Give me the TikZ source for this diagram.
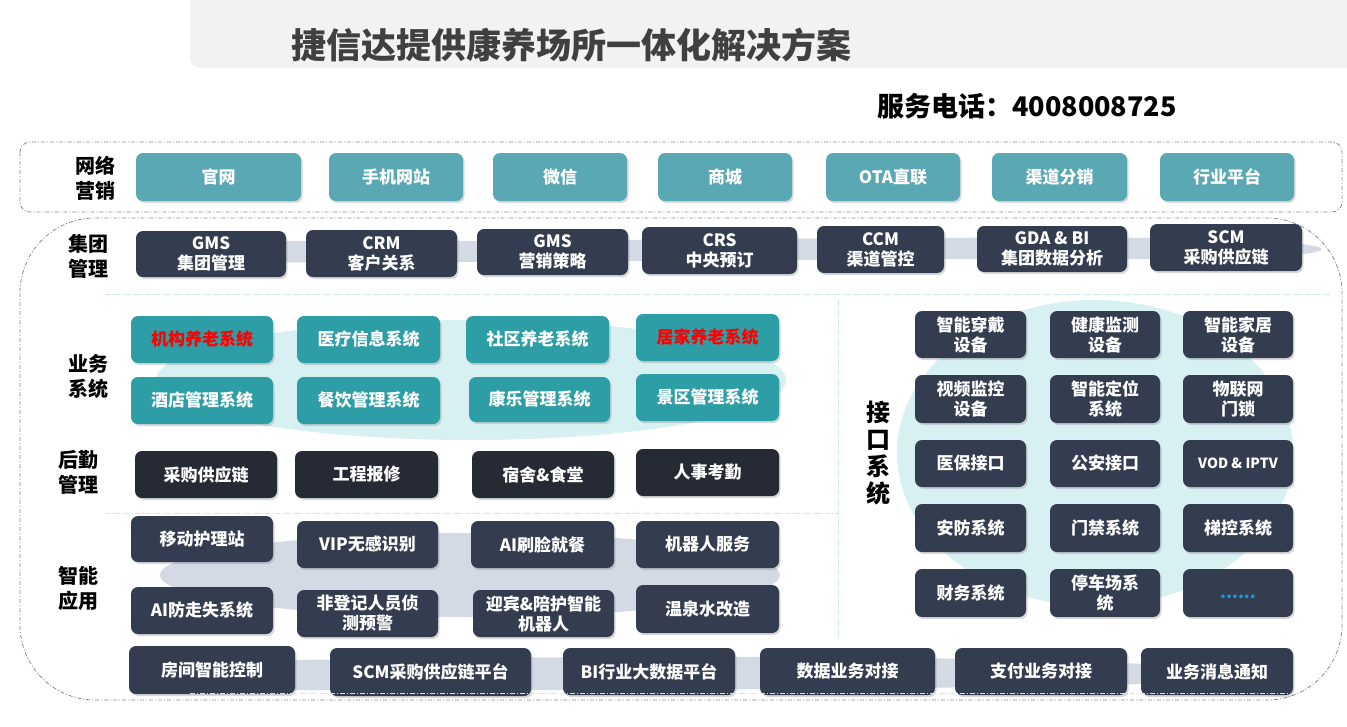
\documentclass[tikz,border=0pt]{standalone}
\usepackage{fontspec}
\newfontfamily\cjk{Noto Sans CJK SC}
\usetikzlibrary{shadows}
\definecolor{tealA}{HTML}{5BA8B5}
\definecolor{tealB}{HTML}{2D9EA6}
\definecolor{darkA}{HTML}{333D4F}
\definecolor{darkB}{HTML}{252A35}
\definecolor{bandc}{HTML}{D3DAE3}
\definecolor{lteal}{HTML}{D7F1F3}
\definecolor{sepc}{HTML}{C4E9EC}
\definecolor{titlebg}{HTML}{F2F2F2}
\definecolor{titlec}{HTML}{404040}
\definecolor{dotc}{HTML}{1E96D6}
\definecolor{borderc}{HTML}{8A8A8A}
\newcommand\boxfont{\cjk\bfseries\fontsize{17}{20}\selectfont}
\newcommand\bx[7]{\node[#6, minimum width={(#4-#2)*1pt}, minimum height={(#5-#3)*1pt}] (#1) at ({(#2+#4)/2},{(#3+#5)/2}) {#7};}
\begin{document}
\begin{tikzpicture}[x=1pt,y=-1pt,
  box/.style={rounded corners=7pt, inner sep=0pt, align=center, text=white, font=\boxfont,
    drop shadow={shadow xshift=1.5pt, shadow yshift=-2pt, opacity=0.3}},
  web/.style={box, fill=tealA},
  biz/.style={box, fill=tealB},
  dk/.style={box, fill=darkA},
  lg/.style={box, fill=darkB},
  lbl/.style={align=center, inner sep=0pt, text=black, font=\cjk\bfseries\fontsize{20}{25}\selectfont},
  dd/.style={draw=borderc, line width=0.8pt, dash pattern=on 4pt off 2pt on 1pt off 2pt},
  sep/.style={draw=sepc, line width=0.9pt, dash pattern=on 5pt off 2pt on 1pt off 2pt}]
\useasboundingbox (0,0) rectangle (1347,726);
% title banner
\fill[titlebg, rounded corners=10pt] (190,-20) rectangle (1380,68);
\node[font=\cjk\bfseries\fontsize{35}{40}\selectfont, text=titlec, inner sep=0pt] (title) at (571,45) {捷信达提供康养场所一体化解决方案};
\node[font=\cjk\bfseries\fontsize{27}{30}\selectfont, text=black, inner sep=0pt] (phone) at (1027,106) {服务电话：4008008725};
% outlines
\draw[dd, rounded corners=10pt] (20,142) rectangle (1342,212);
\draw[dd, rounded corners=75pt] (20,218) rectangle (1342,700);
% separators
\draw[sep] (105,294) -- (1330,294);
\draw[sep] (838,300) -- (838,640);
\draw[sep] (105,513) -- (838,513);
% backgrounds
\fill[lteal] (471,380) ellipse [x radius=315, y radius=60];
\fill[bandc] (470,575) ellipse [x radius=310, y radius=42];
\fill[lteal] (1095,453) ellipse [x radius=198, y radius=153];
\fill[bandc] (136,240) .. controls (500,244) and (800,236) .. (1150,238)
  .. controls (1260,238) and (1320,244) .. (1322,249)
  .. controls (1320,255) and (1260,259) .. (1150,259)
  .. controls (800,258) and (500,264) .. (136,262) -- cycle;
\fill[bandc] (290,660) .. controls (600,656) and (900,654) .. (1145,664)
  -- (1145,684) .. controls (900,690) and (600,690) .. (290,690) -- cycle;
% labels
\node[lbl] (l1) at (95,178) {网络\\营销};
\node[lbl] (l2) at (88,256) {集团\\管理};
\node[lbl] (l3) at (88,376) {业务\\系统};
\node[lbl] (l4) at (78,472) {后勤\\管理};
\node[lbl] (l5) at (78,588) {智能\\应用};
\node[lbl, font=\cjk\bfseries\fontsize{24}{27}\selectfont] (l6) at (878,453) {接\\口\\系\\统};
% row 1
\bx{w1}{136}{153}{301}{201}{web}{官网}
\bx{w2}{329}{153}{463}{201}{web}{手机网站}
\bx{w3}{493}{153}{627}{201}{web}{微信}
\bx{w4}{658}{153}{792}{201}{web}{商城}
\bx{w5}{826}{153}{960}{201}{web}{OTA直联}
\bx{w6}{992}{153}{1127}{201}{web}{渠道分销}
\bx{w7}{1160}{153}{1294}{201}{web}{行业平台}
% row 2
\bx{g1}{136}{231}{286}{277}{dk}{GMS\\集团管理}
\bx{g2}{306}{230}{457}{277}{dk}{CRM\\客户关系}
\bx{g3}{477}{229}{628}{275}{dk}{GMS\\营销策略}
\bx{g4}{642}{227}{797}{274}{dk}{CRS\\中央预订}
\bx{g5}{817}{226}{944}{273}{dk}{CCM\\渠道管控}
\bx{g6}{977}{226}{1127}{272}{dk}{GDA \& BI\\集团数据分析}
\bx{g7}{1150}{224}{1302}{271}{dk}{SCM\\采购供应链}
% business
\bx{b1}{131}{316}{273}{363}{biz,text=red}{机构养老系统}
\bx{b2}{297}{316}{440}{363}{biz}{医疗信息系统}
\bx{b3}{466}{316}{609}{363}{biz}{社区养老系统}
\bx{b4}{636}{314}{779}{361}{biz,text=red}{居家养老系统}
\bx{b5}{131}{377}{273}{424}{biz}{酒店管理系统}
\bx{b6}{297}{377}{440}{424}{biz}{餐饮管理系统}
\bx{b7}{469}{377}{610}{422}{biz}{康乐管理系统}
\bx{b8}{636}{374}{779}{421}{biz}{景区管理系统}
% logistics
\bx{h1}{135}{451}{277}{498}{lg}{采购供应链}
\bx{h2}{295}{451}{438}{498}{lg}{工程报修}
\bx{h3}{472}{451}{614}{498}{lg}{宿舍\&食堂}
\bx{h4}{636}{449}{779}{496}{lg}{人事考勤}
% smart apps
\bx{s1}{131}{516}{273}{562}{dk}{移动护理站}
\bx{s2}{297}{521}{438}{568}{dk}{VIP无感识别}
\bx{s3}{471}{521}{614}{568}{dk}{AI刷脸就餐}
\bx{s4}{636}{521}{779}{568}{dk}{机器人服务}
\bx{s5}{131}{587}{273}{634}{dk}{AI防走失系统}
\bx{s6}{297}{590}{438}{637}{dk}{非登记人员侦\\测预警}
\bx{s7}{473}{590}{614}{637}{dk}{迎宾\&陪护智能\\机器人}
\bx{s8}{636}{585}{779}{633}{dk}{温泉水改造}
% interfaces
\bx{i1}{915}{311}{1026}{358}{dk}{智能穿戴\\设备}
\bx{i2}{1050}{311}{1160}{358}{dk}{健康监测\\设备}
\bx{i3}{1183}{311}{1293}{358}{dk}{智能家居\\设备}
\bx{i4}{915}{375}{1026}{423}{dk}{视频监控\\设备}
\bx{i5}{1050}{375}{1160}{423}{dk}{智能定位\\系统}
\bx{i6}{1183}{375}{1293}{423}{dk}{物联网\\门锁}
\bx{i7}{915}{440}{1026}{487}{dk}{医保接口}
\bx{i8}{1050}{440}{1160}{487}{dk}{公安接口}
\bx{i9}{1183}{440}{1293}{487}{dk,font=\cjk\bfseries\fontsize{14}{16}\selectfont}{VOD \& IPTV}
\bx{i10}{915}{504}{1026}{552}{dk}{安防系统}
\bx{i11}{1050}{504}{1160}{552}{dk}{门禁系统}
\bx{i12}{1183}{504}{1293}{552}{dk}{梯控系统}
\bx{i13}{915}{569}{1026}{617}{dk}{财务系统}
\bx{i14}{1050}{569}{1160}{617}{dk}{停车场系\\统}
\bx{i15}{1183}{569}{1293}{617}{dk,text=dotc}{\smash{\raisebox{-5pt}{......}}}
% bottom row
\bx{p1}{129}{646}{295}{694}{dk}{房间智能控制}
\bx{p2}{330}{648}{531}{696}{dk}{SCM采购供应链平台}
\bx{p3}{563}{648}{735}{695}{dk}{BI行业大数据平台}
\bx{p4}{760}{648}{935}{695}{dk}{数据业务对接}
\bx{p5}{955}{648}{1127}{695}{dk}{支付业务对接}
\bx{p6}{1141}{648}{1293}{695}{dk}{业务消息通知}
\draw[sep] (190,693) -- (1290,693);
\end{tikzpicture}
\end{document}
